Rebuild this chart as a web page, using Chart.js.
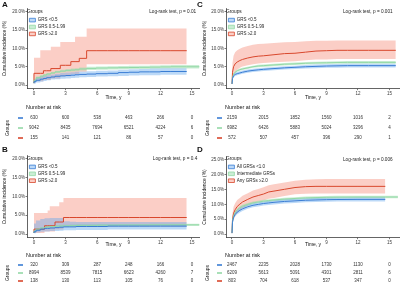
<!DOCTYPE html>
<html>
<head>
<meta charset="UTF-8" />
<title>Cumulative incidence by GRS group</title>
<style>
  body { margin: 0; background: #fff; font-family: "Liberation Sans", Arial, sans-serif; }
  .panel { position: absolute; width: 200px; height: 145px; }
  .panel canvas { position: absolute; left: 0; }
  .tag { position: absolute; font-weight: bold; font-size: 8px; line-height: 8px; color: #111; }
</style>
</head>
<body>
  <div class="panel" style="left:0;top:0">
    <canvas id="topA" width="200" height="101" style="top:0"></canvas>
    <canvas id="riskA" width="200" height="44" style="top:101px"></canvas>
  </div>
  <div class="panel" style="left:200px;top:0">
    <canvas id="topC" width="200" height="101" style="top:0"></canvas>
    <canvas id="riskC" width="200" height="44" style="top:101px"></canvas>
  </div>
  <div class="panel" style="left:0;top:145px">
    <canvas id="topB" width="200" height="104" style="top:0"></canvas>
    <canvas id="riskB" width="200" height="41" style="top:104px"></canvas>
  </div>
  <div class="panel" style="left:200px;top:145px">
    <canvas id="topD" width="200" height="104" style="top:0"></canvas>
    <canvas id="riskD" width="200" height="41" style="top:104px"></canvas>
  </div>
  <div class="tag" style="left:2px;top:1px">A</div>
  <div class="tag" style="left:197px;top:1px">C</div>
  <div class="tag" style="left:2px;top:146px">B</div>
  <div class="tag" style="left:197px;top:146px">D</div>

<script src="https://cdn.jsdelivr.net/npm/chart.js"></script>
<script>
  // ---- data ----
  const timeTicks = [0, 3, 6, 9, 12, 15];
  const pctTicks = [0, 5, 10, 15, 20];
  const pctTicksD = [0, 5, 10, 15, 20, 25];
  const riskTimes = [0, 3, 6, 9, 12, 15];

  const grsGroups = ['GRS <0.5', 'GRS 0.5-1.99', 'GRS \u22652.0'];
  const mixGroups = ['All GRSs <1.0', 'Intermediate GRSs', 'Any GRSs \u22652.0'];

  // panel A
  const tA = [0, 0.2, 0.6, 0.9, 1.2, 1.6, 2.0, 2.5, 3.0, 3.5, 3.9, 4.3, 5.0, 5.9, 7, 8, 9, 10, 11, 12, 13, 14.5, 15.7];
  const aLowEst = [0.5, 0.9, 1.3, 1.6, 1.8, 2.0, 2.2, 2.4, 2.5, 2.6, 2.7, 2.8, 2.9, 3.0, 3.1, 3.2, 3.4, 3.5, 3.6, 3.6, 3.7, 3.7, null];
  const aLowLo = [0.2, 0.4, 0.7, 0.9, 1.1, 1.3, 1.5, 1.6, 1.7, 1.8, 1.9, 2.0, 2.1, 2.2, 2.3, 2.4, 2.5, 2.6, 2.7, 2.7, 2.8, 2.8, null];
  const aLowHi = [0.8, 1.5, 2.0, 2.3, 2.5, 2.7, 2.9, 3.1, 3.3, 3.4, 3.5, 3.6, 3.7, 3.8, 3.9, 4.0, 4.2, 4.3, 4.4, 4.5, 4.6, 4.6, null];
  const aMidEst = [0.5, 1.3, 2.0, 2.4, 2.7, 3.0, 3.3, 3.6, 3.8, 4.0, 4.1, 4.2, 4.4, 4.55, 4.65, 4.7, 4.75, 4.8, 4.85, 4.9, 4.95, 5.0, 5.0];
  const aMidLo = [0.3, 1.0, 1.7, 2.1, 2.4, 2.7, 3.0, 3.3, 3.4, 3.6, 3.7, 3.8, 4.0, 4.1, 4.2, 4.25, 4.3, 4.35, 4.4, 4.45, 4.5, 4.5, 4.5];
  const aMidHi = [0.7, 1.6, 2.3, 2.7, 3.0, 3.3, 3.6, 3.9, 4.2, 4.4, 4.5, 4.6, 4.8, 5.0, 5.1, 5.15, 5.2, 5.25, 5.3, 5.35, 5.4, 5.5, 5.5];
  const aHighEst = [0.5, 3.2, 3.2, 3.2, 3.9, 3.9, 4.5, 4.5, 5.4, 5.4, 6.4, 6.4, 7.3, 9.4, 9.4, 9.4, 9.4, 9.4, 9.4, 9.4, 9.4, 9.4, null];
  const aHighLo = [0, 1.0, 1.0, 1.0, 1.4, 1.4, 1.8, 1.8, 2.4, 2.4, 3.0, 3.0, 3.6, 5.7, 5.7, 5.7, 5.7, 5.7, 5.7, 5.7, 5.7, 5.7, null];
  const aHighHi = [3.0, 7.5, 7.5, 9.5, 9.5, 9.5, 10.5, 10.5, 11.8, 11.8, 11.8, 13.2, 13.2, 15.5, 15.5, 15.5, 15.5, 15.5, 15.5, 15.5, 15.5, 15.5, null];
  const aRiskLow = [630, 600, 538, 463, 266, 0];
  const aRiskMid = [9042, 8435, 7694, 6521, 4224, 6];
  const aRiskHigh = [155, 141, 121, 86, 57, 0];

  // panel B
  const tB = [0, 0.2, 0.6, 1.0, 1.3, 1.5, 2.0, 2.4, 2.8, 3.4, 4, 5, 6, 7, 8, 9, 10, 11, 12, 13, 14.5, 15.7];
  const bLowEst = [0.3, 0.6, 1.0, 1.3, 1.5, 1.5, 1.6, 1.7, 1.8, 1.9, 1.9, 2.0, 2.0, 2.0, 2.1, 2.1, 2.1, 2.1, 2.1, 2.1, 2.1, null];
  const bLowLo = [0.1, 0.2, 0.4, 0.6, 0.7, 0.7, 0.8, 0.8, 0.9, 1.0, 1.0, 1.1, 1.1, 1.1, 1.2, 1.2, 1.2, 1.2, 1.2, 1.2, 1.2, null];
  const bLowHi = [1.5, 2.8, 3.6, 4.0, 4.2, 4.2, 4.3, 4.3, 4.3, 3.4, 3.3, 3.2, 3.2, 3.2, 3.2, 3.2, 3.2, 3.2, 3.2, 3.2, 3.2, null];
  const bMidEst = [0.3, 0.8, 1.3, 1.6, 1.8, 1.9, 2.0, 2.1, 2.15, 2.2, 2.25, 2.3, 2.3, 2.35, 2.35, 2.4, 2.4, 2.4, 2.45, 2.45, 2.45, 2.45];
  const bMidLo = [0.1, 0.5, 1.0, 1.3, 1.5, 1.6, 1.7, 1.8, 1.85, 1.9, 1.95, 2.0, 2.0, 2.05, 2.05, 2.1, 2.1, 2.1, 2.15, 2.15, 2.15, 2.15];
  const bMidHi = [0.5, 1.1, 1.6, 1.9, 2.1, 2.2, 2.3, 2.4, 2.45, 2.5, 2.55, 2.6, 2.6, 2.65, 2.65, 2.7, 2.7, 2.7, 2.75, 2.75, 2.75, 2.75];
  const bHighEst = [0.3, 1.3, 1.3, 1.3, 2.2, 2.2, 2.2, 3.2, 3.2, 4.4, 4.4, 4.4, 4.4, 4.4, 4.4, 4.4, 4.4, 4.4, 4.4, 4.4, 4.4, null];
  const bHighLo = [0, 0.3, 0.3, 0.3, 0.7, 0.7, 0.7, 1.2, 1.2, 2.0, 2.0, 2.0, 2.0, 2.0, 2.0, 2.0, 2.0, 2.0, 2.0, 2.0, 2.0, null];
  const bHighHi = [2.0, 5.6, 5.6, 5.6, 5.6, 6.3, 7.4, 7.4, 8.5, 9.6, 9.6, 9.6, 9.6, 9.6, 9.6, 9.6, 9.6, 9.6, 9.6, 9.6, 9.6, null];
  const bRiskLow = [320, 309, 287, 248, 166, 0];
  const bRiskMid = [8994, 8539, 7815, 6623, 4260, 7];
  const bRiskHigh = [138, 130, 113, 105, 76, 0];

  // panel C
  const tC = [0, 0.05, 0.15, 0.3, 0.5, 0.75, 1, 1.5, 2, 2.5, 3, 4, 5, 6, 7, 8, 9, 10, 11, 12, 13, 14, 15.6];
  const cLowEst = [0.3, 1.8, 2.5, 2.9, 3.1, 3.3, 3.5, 3.8, 4.0, 4.15, 4.3, 4.5, 4.7, 4.85, 5.0, 5.1, 5.2, 5.25, 5.3, 5.3, 5.3, 5.3, 5.3];
  const cLowLo = [0.1, 1.4, 2.05, 2.45, 2.65, 2.85, 3.05, 3.35, 3.55, 3.7, 3.85, 4.05, 4.25, 4.4, 4.5, 4.6, 4.7, 4.75, 4.8, 4.8, 4.8, 4.8, 4.8];
  const cLowHi = [0.5, 2.2, 2.95, 3.35, 3.55, 3.75, 3.95, 4.25, 4.45, 4.6, 4.75, 4.95, 5.15, 5.3, 5.5, 5.6, 5.7, 5.75, 5.8, 5.8, 5.8, 5.8, 5.8];
  const cMidEst = [0.3, 2.0, 3.0, 3.5, 3.9, 4.2, 4.4, 4.7, 5.0, 5.2, 5.3, 5.5, 5.7, 5.8, 5.95, 6.05, 6.1, 6.15, 6.2, 6.2, 6.2, 6.2, 6.2];
  const cMidLo = [0.2, 1.7, 2.7, 3.2, 3.6, 3.9, 4.1, 4.4, 4.7, 4.85, 4.95, 5.15, 5.35, 5.45, 5.6, 5.7, 5.75, 5.8, 5.85, 5.85, 5.85, 5.85, 5.85];
  const cMidHi = [0.4, 2.3, 3.3, 3.8, 4.2, 4.5, 4.7, 5.0, 5.3, 5.55, 5.65, 5.85, 6.05, 6.15, 6.3, 6.4, 6.45, 6.5, 6.55, 6.55, 6.55, 6.55, 6.55];
  const cHighEst = [0.3, 3.5, 5.0, 5.8, 6.3, 6.7, 7.0, 7.4, 7.7, 7.9, 8.0, 8.3, 8.6, 8.7, 9.0, 9.3, 9.4, 9.5, 9.5, 9.5, 9.5, 9.5, 9.5];
  const cHighLo = [0.1, 1.5, 2.8, 3.5, 4.2, 4.7, 5.1, 5.4, 5.7, 5.9, 6.0, 6.2, 6.4, 6.5, 6.8, 7.0, 7.0, 7.1, 7.1, 7.1, 7.1, 7.1, 7.1];
  const cHighHi = [0.6, 6.0, 8.0, 9.0, 9.5, 9.9, 10.3, 10.7, 11.0, 11.2, 11.3, 11.5, 11.7, 11.8, 12.0, 12.1, 12.1, 12.2, 12.2, 12.2, 12.2, 12.2, 12.2];
  const cRiskLow = [2159, 2015, 1852, 1560, 1016, 2];
  const cRiskMid = [6982, 6426, 5883, 5024, 3296, 4];
  const cRiskHigh = [572, 507, 457, 396, 290, 1];

  // panel D
  const tD = [0, 0.05, 0.15, 0.3, 0.5, 0.75, 1, 1.5, 2, 2.5, 3, 3.5, 4, 5, 6, 7, 8, 9, 10, 12, 14.6, 15.8];
  const dLowEst = [0.3, 4.0, 5.6, 6.6, 7.4, 8.0, 8.5, 9.2, 9.7, 10.0, 10.3, 10.5, 10.7, 11.0, 11.2, 11.4, 11.5, 11.6, 11.65, 11.7, 11.7, null];
  const dLowLo = [0.1, 3.3, 4.9, 5.9, 6.7, 7.3, 7.8, 8.5, 9.0, 9.3, 9.6, 9.8, 10.0, 10.3, 10.5, 10.7, 10.8, 10.9, 10.95, 11.0, 11.0, null];
  const dLowHi = [0.5, 4.7, 6.3, 7.3, 8.1, 8.7, 9.2, 9.9, 10.4, 10.7, 11.0, 11.2, 11.4, 11.7, 11.9, 12.1, 12.2, 12.3, 12.35, 12.4, 12.4, null];
  const dMidEst = [0.3, 4.5, 6.2, 7.3, 8.2, 8.9, 9.4, 10.0, 10.5, 10.8, 11.1, 11.3, 11.5, 11.8, 12.0, 12.2, 12.3, 12.4, 12.45, 12.5, 12.5, 12.5];
  const dMidLo = [0.2, 4.1, 5.75, 6.85, 7.75, 8.45, 8.95, 9.55, 10.05, 10.35, 10.65, 10.85, 11.05, 11.35, 11.55, 11.75, 11.85, 11.95, 12.0, 12.05, 12.05, 12.05];
  const dMidHi = [0.4, 4.9, 6.65, 7.75, 8.65, 9.35, 9.85, 10.45, 10.95, 11.25, 11.55, 11.75, 11.95, 12.25, 12.45, 12.65, 12.75, 12.85, 12.9, 12.95, 12.95, 12.95];
  const dHighEst = [0.3, 5.0, 7.0, 8.2, 9.3, 10.1, 10.8, 11.7, 12.5, 13.0, 13.5, 14.2, 14.5, 15.1, 15.7, 16.0, 16.1, 16.1, 16.1, 16.1, 16.1, null];
  const dHighLo = [0.1, 3.2, 5.0, 6.1, 7.2, 8.0, 8.7, 9.6, 10.4, 10.9, 11.3, 11.9, 12.2, 12.8, 13.4, 13.6, 13.7, 13.7, 13.7, 13.7, 13.7, null];
  const dHighHi = [0.6, 7.0, 9.2, 10.4, 11.5, 12.2, 12.9, 13.8, 14.7, 15.2, 15.8, 16.5, 16.8, 17.4, 18.0, 18.3, 18.5, 18.6, 18.6, 18.6, 18.6, null];
  const dRiskLow = [2467, 2235, 2028, 1730, 1130, 0];
  const dRiskMid = [6209, 5613, 5091, 4301, 2811, 6];
  const dRiskHigh = [803, 704, 618, 537, 347, 0];

  // ---- styling ----
  const lineColors = ['#3a7dd4', '#93d9a6', '#d8472c'];
  const bandColors = ['rgba(95,165,235,0.42)', 'rgba(150,220,170,0.5)', 'rgba(244,120,96,0.36)'];
  const axisColor = '#222';
  const textColor = '#3a3a3a';

  Chart.defaults.font.family = '"Liberation Sans", Arial, sans-serif';
  Chart.defaults.color = textColor;

  const toPts = (times, arr) => times.map((t, i) => ({ x: t, y: arr[i] }));

  const noteText = {
    id: 'noteText',
    afterDraw(chart, args, opts) {
      const { ctx, scales: { x, y } } = chart;
      ctx.save();
      ctx.font = '4.7px "Liberation Sans", Arial, sans-serif';
      ctx.fillStyle = '#222';
      ctx.textAlign = 'right';
      ctx.textBaseline = 'middle';
      ctx.fillText(opts.text, x.getPixelForValue(opts.x), y.getPixelForValue(opts.y));
      ctx.restore();
    }
  };

  const riskTable = {
    id: 'riskTable',
    afterDatasetsDraw(chart) {
      const { ctx, chartArea } = chart;
      ctx.save();
      ctx.font = '5.4px "Liberation Sans", Arial, sans-serif';
      ctx.fillStyle = '#111';
      ctx.textAlign = 'left';
      ctx.textBaseline = 'middle';
      ctx.fillText('Number at risk', chartArea.left - 1, chartArea.top - 5.5);
      ctx.font = '4.5px "Liberation Sans", Arial, sans-serif';
      ctx.textAlign = 'center';
      chart.data.datasets.forEach((ds, d) => {
        const meta = chart.getDatasetMeta(d);
        const yy = meta.data[0].y;
        ctx.strokeStyle = lineColors[d];
        ctx.lineWidth = 1.6;
        ctx.beginPath();
        ctx.moveTo(chartArea.left - 9, yy);
        ctx.lineTo(chartArea.left - 4, yy);
        ctx.stroke();
        ctx.fillStyle = '#333';
        meta.data.forEach((pt, i) => ctx.fillText(String(ds.data[i].n), pt.x, pt.y));
      });
      ctx.restore();
    }
  };

  function drawPanel(p) {
    const datasets = [];
    p.est.forEach((est, g) => {
      datasets.push({
        label: p.labels[g], data: toPts(p.times, est), borderColor: lineColors[g],
        bandColor: bandColors[g], borderWidth: 1, pointRadius: 0, stepped: p.stepped,
        fill: false, order: 1
      });
    });
    p.est.forEach((est, g) => {
      datasets.push({
        isBand: true, data: toPts(p.times, p.lo[g]), borderWidth: 0, pointRadius: 0,
        stepped: p.stepped, fill: false, order: 10
      });
      datasets.push({
        isBand: true, data: toPts(p.times, p.hi[g]), borderWidth: 0, pointRadius: 0,
        stepped: p.stepped, fill: '-1', backgroundColor: bandColors[g], order: 10
      });
    });

    new Chart(document.getElementById(p.topId), {
      type: 'line',
      data: { datasets },
      plugins: [noteText],
      options: {
        responsive: false,
        animation: false,
        layout: { padding: { top: p.padTop, right: 0, left: 0, bottom: 0 } },
        plugins: {
          tooltip: { enabled: false },
          noteText: { text: p.note, x: p.noteX, y: p.noteY },
          legend: {
            position: 'chartArea',
            align: 'start',
            title: { display: true, text: 'Groups', color: '#222', position: 'start',
                     font: { size: 4.8 }, padding: { top: p.legendTop, bottom: 0.5 } },
            labels: {
              boxWidth: 6, boxHeight: 3.6, padding: 2.4, color: '#222',
              font: { size: 4.5, lineHeight: 1.1 },
              filter: (item, data) => !data.datasets[item.datasetIndex].isBand,
              generateLabels(chart) {
                return Chart.defaults.plugins.legend.labels.generateLabels(chart).map(l => {
                  const ds = chart.data.datasets[l.datasetIndex];
                  return Object.assign(l, { fillStyle: ds.bandColor, strokeStyle: ds.borderColor, lineWidth: 0.8 });
                });
              }
            }
          }
        },
        scales: {
          x: {
            type: 'linear', min: p.xMin, max: p.xMax,
            afterBuildTicks: s => { s.ticks = timeTicks.map(v => ({ value: v })); },
            afterFit: s => { s.height = p.xAxisH; },
            border: { display: true, color: axisColor, width: 0.7 },
            grid: { drawOnChartArea: false, drawTicks: true, tickLength: 1.5, color: axisColor, lineWidth: 0.6 },
            ticks: { font: { size: 4.5 }, padding: 0.5, maxRotation: 0, color: textColor },
            title: { display: true, text: 'Time, y', font: { size: 5 }, color: '#111', padding: { top: 0, bottom: p.titlePad } }
          },
          y: {
            type: 'linear', min: p.yMin, max: p.yMax,
            afterBuildTicks: s => { s.ticks = p.yTicks.map(v => ({ value: v })); },
            afterFit: s => { s.width = p.axisW; },
            border: { display: true, color: axisColor, width: 0.7 },
            grid: { drawOnChartArea: false, drawTicks: true, tickLength: 1.5, color: axisColor, lineWidth: 0.6 },
            ticks: { font: { size: 4.5 }, padding: 0.5, color: textColor, callback: v => v.toFixed(1) + '%' },
            title: { display: true, text: 'Cumulative incidence (%)', font: { size: 4.9 }, color: '#111', padding: { top: 2, bottom: 0 } }
          }
        }
      }
    });

    const riskSets = p.risk.map((row, r) => ({
      data: row.map((n, i) => ({ x: riskTimes[i], y: r + 1, n })),
      pointRadius: 0, showLine: false
    }));

    new Chart(document.getElementById(p.riskId), {
      type: 'scatter',
      data: { datasets: riskSets },
      plugins: [riskTable],
      options: {
        responsive: false,
        animation: false,
        layout: { padding: { top: p.riskPadTop, bottom: p.riskPadBottom, left: 0, right: 0 } },
        plugins: { legend: { display: false }, tooltip: { enabled: false } },
        scales: {
          x: { type: 'linear', min: p.xMin, max: p.xMax, display: false },
          y: {
            type: 'linear', min: 0.5, max: 3.5, reverse: true,
            afterFit: s => { s.width = p.axisW; },
            border: { display: false },
            grid: { display: false },
            ticks: { display: false },
            title: { display: true, text: 'Groups', font: { size: 4.9 }, color: '#111', padding: { top: 5, bottom: 0 } }
          }
        }
      }
    });
  }

  drawPanel({
    topId: 'topA', riskId: 'riskA', times: tA, stepped: 'after',
    est: [aLowEst, aMidEst, aHighEst], lo: [aLowLo, aMidLo, aHighLo], hi: [aLowHi, aMidHi, aHighHi],
    labels: grsGroups, risk: [aRiskLow, aRiskMid, aRiskHigh],
    yTicks: pctTicks, yMin: -1, yMax: 21, xMin: -0.66, xMax: 15.76, axisW: 27,
    padTop: 8.35, xAxisH: 12.35, titlePad: 0.5, riskPadTop: 12, riskPadBottom: 2, legendTop: 9.2,
    note: 'Log-rank test, p = 0.01', noteX: 15.4, noteY: 20
  });
  drawPanel({
    topId: 'topC', riskId: 'riskC', times: tC, stepped: false,
    est: [cLowEst, cMidEst, cHighEst], lo: [cLowLo, cMidLo, cHighLo], hi: [cLowHi, cMidHi, cHighHi],
    labels: grsGroups, risk: [cRiskLow, cRiskMid, cRiskHigh],
    yTicks: pctTicks, yMin: -1, yMax: 21, xMin: -0.57, xMax: 16.0, axisW: 26,
    padTop: 8.35, xAxisH: 12.35, titlePad: 0.5, riskPadTop: 12, riskPadBottom: 2, legendTop: 9.2,
    note: 'Log-rank test, p = 0.001', noteX: 15.3, noteY: 20
  });
  drawPanel({
    topId: 'topB', riskId: 'riskB', times: tB, stepped: 'after',
    est: [bLowEst, bMidEst, bHighEst], lo: [bLowLo, bMidLo, bHighLo], hi: [bLowHi, bMidHi, bHighHi],
    labels: grsGroups, risk: [bRiskLow, bRiskMid, bRiskHigh],
    yTicks: pctTicks, yMin: -1, yMax: 21, xMin: -0.66, xMax: 15.76, axisW: 27,
    padTop: 10.25, xAxisH: 11.25, titlePad: 1, riskPadTop: 12, riskPadBottom: 5, legendTop: 11,
    note: 'Log-rank test, p = 0.4', noteX: 15.5, noteY: 20
  });
  drawPanel({
    topId: 'topD', riskId: 'riskD', times: tD, stepped: false,
    est: [dLowEst, dMidEst, dHighEst], lo: [dLowLo, dMidLo, dHighLo], hi: [dLowHi, dMidHi, dHighHi],
    labels: mixGroups, risk: [dRiskLow, dRiskMid, dRiskHigh],
    yTicks: pctTicksD, yMin: -1.25, yMax: 26.25, xMin: -0.57, xMax: 16.0, axisW: 26,
    padTop: 11.3, xAxisH: 11.3, titlePad: 1, riskPadTop: 12, riskPadBottom: 5, legendTop: 11,
    note: 'Log-rank test, p = 0.006', noteX: 15.3, noteY: 25
  });
</script>
</body>
</html>
